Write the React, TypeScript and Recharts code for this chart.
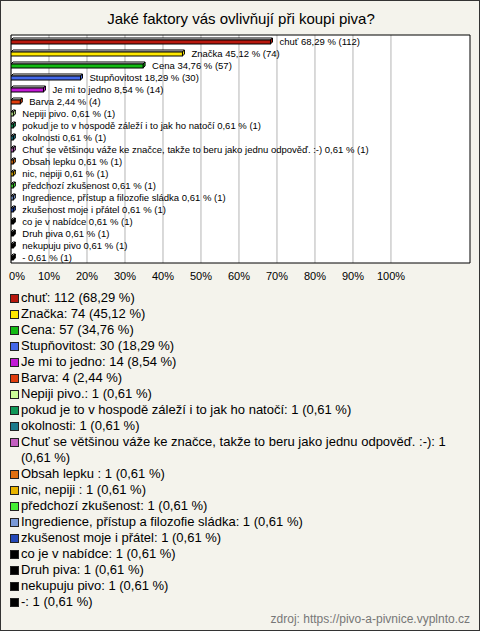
import React from "react";
import {
  BarChart,
  Bar,
  XAxis,
  YAxis,
  CartesianGrid,
  Cell,
  LabelList,
  ReferenceArea
} from "recharts";

const names = [
  "chuť",
  "Značka",
  "Cena",
  "Stupňovitost",
  "Je mi to jedno",
  "Barva",
  "Nepiji pivo.",
  "pokud je to v hospodě záleží i to jak ho natočí",
  "okolnosti",
  "Chuť se většinou váže ke značce, takže to beru jako jednu odpověď. :-)",
  "Obsah lepku ",
  "nic, nepiji ",
  "předchozí zkušenost",
  "Ingredience, přístup a filozofie sládka",
  "zkušenost moje i přátel",
  "co je v nabídce",
  "Druh piva",
  "nekupuju pivo",
  "-"
];

const counts = [112, 74, 57, 30, 14, 4, 1, 1, 1, 1, 1, 1, 1, 1, 1, 1, 1, 1, 1];

const percents = [
  68.29, 45.12, 34.76, 18.29, 8.54, 2.44, 0.61, 0.61, 0.61, 0.61, 0.61, 0.61,
  0.61, 0.61, 0.61, 0.61, 0.61, 0.61, 0.61
];

const colors = [
  "#b8180e", "#ffe800", "#14bb14", "#4468e8", "#c21ad6", "#e03c0c",
  "#ccff99", "#109858", "#1c7b8c", "#c35fc0", "#e27010", "#e8b400",
  "#44ee33", "#7a9ad8", "#2448b8", "#000000", "#000000", "#000000", "#000000"
];

const xTicks = [0, 10, 20, 30, 40, 50, 60, 70, 80, 90, 100];

const fmt = (v: number) => v.toFixed(2).replace(".", ",");

const data = names.map((name, i) => ({
  name: name + "#" + i,
  value: percents[i],
  label: `${name} ${fmt(percents[i])} % (${counts[i]})`,
  legend: `${name}: ${counts[i]} (${fmt(percents[i])} %)`
}));

const FONT = "Arial, 'Liberation Sans', sans-serif";

// pseudo 3D bar like the original
function Bar3D(props: any) {
  const { x, y, width, height, fill } = props;
  const d = 2;
  const w = Math.max(width, 1);
  const top = y;
  const bottom = y + height;
  return (
    <g stroke="#000" strokeWidth={1}>
      <polygon
        points={`${x},${top + d} ${x + d},${top} ${x + w + d},${top} ${x + w},${top + d}`}
        fill="#fff"
      />
      <polygon
        points={`${x + w},${top + d} ${x + w + d},${top} ${x + w + d},${bottom - d} ${x + w},${bottom}`}
        fill={fill}
      />
      <rect x={x} y={top + d} width={w} height={bottom - top - d} fill={fill} />
    </g>
  );
}

function BarLabel(props: any) {
  const { x, y, width, height, value } = props;
  return (
    <text
      x={x + width + 9}
      y={y + height / 2 + 1}
      fontSize={9.5}
      fontFamily={FONT}
      fill="#000"
      dominantBaseline="middle"
    >
      {value}
    </text>
  );
}

function XTick(props: any) {
  const { x, y, payload } = props;
  return (
    <text
      x={payload.value === 0 ? x + 6 : x}
      y={y + 6}
      fontSize={11}
      fontFamily={FONT}
      fill="#000"
      textAnchor="middle"
      dominantBaseline="middle"
    >
      {payload.value}%
    </text>
  );
}

export default function App() {
  return (
    <div
      style={{
        position: "absolute",
        left: 0,
        top: 0,
        width: 480,
        height: 631,
        boxSizing: "border-box",
        border: "1px solid #333",
        background: "#f4f3ec",
        fontFamily: FONT,
        overflow: "hidden"
      }}
    >
      <div
        style={{
          position: "absolute",
          left: 0,
          top: 9,
          width: 480,
          textAlign: "center",
          fontSize: 15,
          color: "#000"
        }}
      >
        Jaké faktory vás ovlivňují při koupi piva?
      </div>
      <div style={{ position: "absolute", left: -1, top: -1 }}>
        <BarChart
          width={480}
          height={290}
          data={data}
          layout="vertical"
          margin={{ top: 35, left: 11, right: 10, bottom: 7 }}
          barSize={6}
        >
          <CartesianGrid
            horizontal={false}
            stroke="#b4b4b4"
            fill="#ffffff"
            verticalValues={xTicks}
          />
          <XAxis
            type="number"
            domain={[0, 120.8]}
            ticks={xTicks}
            axisLine={false}
            tickLine={false}
            tick={<XTick />}
            interval={0}
            height={20}
            allowDataOverflow
          />
          <YAxis type="category" dataKey="name" hide />
          <ReferenceArea x1={0} x2={120.8} fill="none" stroke="#000" strokeWidth={1} ifOverflow="visible" />
          <Bar dataKey="value" shape={<Bar3D />} isAnimationActive={false}>
            {data.map((d, i) => (
              <Cell key={d.name} fill={colors[i]} />
            ))}
            <LabelList dataKey="label" content={<BarLabel />} />
          </Bar>
        </BarChart>
      </div>
      <div
        style={{
          position: "absolute",
          left: 9,
          top: 289,
          width: 455,
          fontSize: 13,
          lineHeight: "16px",
          color: "#000"
        }}
      >
        {data.map((d, i) => (
          <div key={d.name} style={{ display: "flex", alignItems: "flex-start" }}>
            <span
              style={{
                display: "inline-block",
                flex: "0 0 auto",
                width: 7,
                height: 7,
                border: "1px solid #222",
                background: colors[i],
                marginTop: 4,
                marginRight: 2
              }}
            />
            <span>{d.legend}</span>
          </div>
        ))}
      </div>
      <div
        style={{
          position: "absolute",
          right: 9,
          top: 611,
          fontSize: 12,
          color: "#777"
        }}
      >
        zdroj: https://pivo-a-pivnice.vyplnto.cz
      </div>
    </div>
  );
}
